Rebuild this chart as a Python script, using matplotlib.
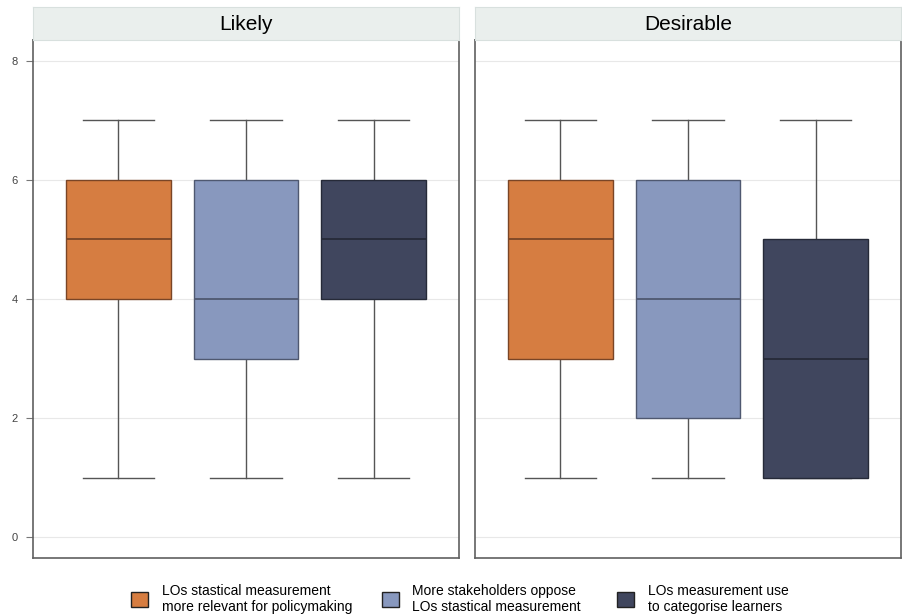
import matplotlib
matplotlib.use("Agg")
import matplotlib.pyplot as plt
from matplotlib.patches import Patch

plt.rcParams["font.family"] = ["Liberation Sans Narrow", "Liberation Sans", "DejaVu Sans"]

panels = ["Likely", "Desirable"]
series = [
    "LOs stastical measurement\nmore relevant for policymaking",
    "More stakeholders oppose\nLOs stastical measurement",
    "LOs measurement use\nto categorise learners",
]
colors = ["#D67D41", "#8898BE", "#40465E"]
edges = ["#7A4526", "#4F5870", "#262A38"]

# per panel, per series: lower whisker, q1, median, q3, upper whisker
whislo = [[1, 1, 1], [1, 1, 1]]
q1 = [[4, 3, 4], [3, 2, 1]]
med = [[5, 4, 5], [5, 4, 3]]
q3 = [[6, 6, 6], [6, 6, 5]]
whishi = [[7, 7, 7], [7, 7, 7]]
yticks = [0, 2, 4, 6, 8]

W, H = 902, 616
fig = plt.figure(figsize=(W / 100, H / 100), dpi=100)

panel_x = [33, 475]
panel_w = 426
top, bottom = 40, 558
strip_top = 7

for p, name in enumerate(panels):
    ax = fig.add_axes([panel_x[p] / W, 1 - bottom / H, panel_w / W, (bottom - top) / H])
    stats = []
    for i in range(3):
        stats.append(dict(whislo=whislo[p][i], q1=q1[p][i], med=med[p][i],
                          q3=q3[p][i], whishi=whishi[p][i], fliers=[]))
    bp = ax.bxp(stats, positions=[1, 2, 3], widths=0.82, patch_artist=True,
                showfliers=False, capwidths=0.56)
    for i, box in enumerate(bp["boxes"]):
        box.set_facecolor(colors[i])
        box.set_edgecolor(edges[i])
        box.set_linewidth(1.0)
        box.set_zorder(3)
        bp["medians"][i].set_color(edges[i])
        bp["medians"][i].set_linewidth(1.3)
        bp["medians"][i].set_zorder(4)
    for ln in bp["whiskers"] + bp["caps"]:
        ln.set_color("#555555")
        ln.set_linewidth(1.0)

    ax.set_xlim(0.33, 3.67)
    ax.set_ylim(-0.35, 8.35)
    ax.set_xticks([])
    ax.set_yticks(yticks)
    ax.grid(axis="y", color="#E8E8E8", linewidth=0.8, zorder=0)
    ax.set_axisbelow(True)
    for s in ax.spines.values():
        s.set_color("#606060")
        s.set_linewidth(1.2)
    if p == 0:
        ax.tick_params(axis="y", length=5, width=0.8, color="#777777",
                       labelsize=8, labelcolor="#444444", pad=6)
    else:
        ax.tick_params(axis="y", length=0, labelleft=False)

    sx = fig.add_axes([panel_x[p] / W, 1 - top / H, panel_w / W, (top - strip_top) / H])
    sx.set_facecolor("#EAEFED")
    sx.set_xticks([])
    sx.set_yticks([])
    for s in sx.spines.values():
        s.set_color("#D8E0DE")
        s.set_linewidth(0.8)
    sx.text(0.5, 0.48, name, ha="center", va="center", fontsize=15,
            family=["Liberation Sans", "DejaVu Sans"], transform=sx.transAxes)

# one legend entry per series, laid out along the bottom
legend_x = [124, 375, 610]
for i in range(3):
    h = Patch(facecolor=colors[i], edgecolor="#222222", linewidth=1.0, label=series[i])
    fig.legend(handles=[h], loc="center left", bbox_to_anchor=(legend_x[i] / W, 1 - 599 / H),
               frameon=False, fontsize=10, handlelength=1.2, handleheight=1.25,
               handletextpad=1.0, borderpad=0, labelspacing=0.1)

fig.savefig("out.png", dpi=100, facecolor="white")
